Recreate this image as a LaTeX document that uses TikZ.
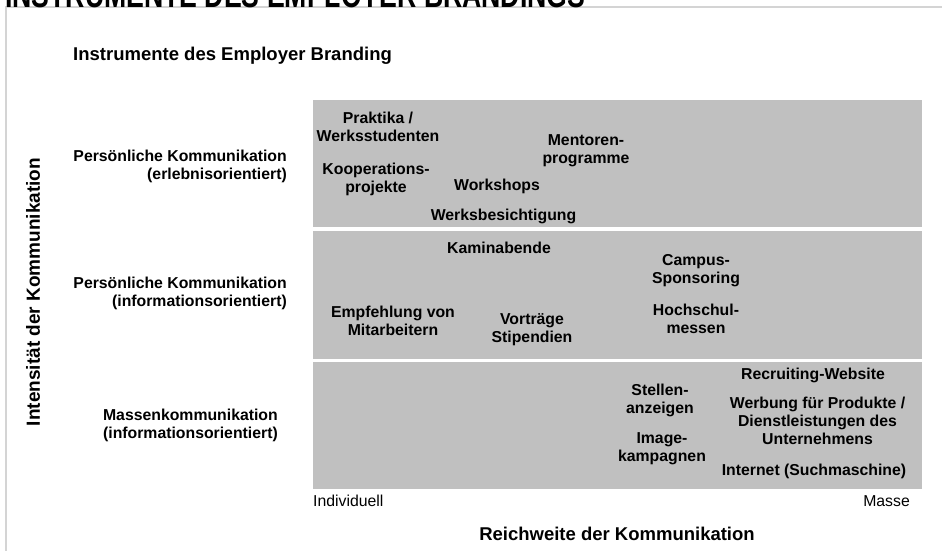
\documentclass[tikz,border=0pt]{standalone}
\usepackage{fontspec}
\setmainfont{Liberation Sans}
\definecolor{panel}{RGB}{192,192,192}
\definecolor{framegray}{RGB}{212,212,212}
\begin{document}
\begin{tikzpicture}[x=1pt,y=-1pt,
  item/.style={font=\fontsize{15.8}{18}\selectfont\bfseries, align=center, anchor=north, inner sep=0pt},
  lab/.style={font=\fontsize{15.8}{18.3}\selectfont\bfseries, anchor=north east, inner sep=0pt},
  band/.style={fill=panel, draw=none, inner sep=0pt, anchor=north west, minimum width=608.5pt},
  axis/.style={font=\fontsize{15.8}{18}\selectfont, inner sep=0pt}]
\useasboundingbox (0,0) rectangle (942,551);
\fill[white] (0,0) rectangle (942,551);
% frame
\draw[framegray, line width=2pt] (5.7,551) -- (5.7,7.5) -- (942,7.5);
\node[anchor=base west, inner sep=0pt, font=\fontsize{36}{36}\selectfont\bfseries] (title) at (5,7.5)
  {\scalebox{0.74}[1]{INSTRUMENTE DES EMPLOYER BRANDINGS}};
% heading
\node[anchor=base west, inner sep=0pt, font=\fontsize{18.5}{20}\selectfont\bfseries] (head) at (73,61)
  {Instrumente des Employer Branding};
% bands
\node[band, minimum height=127pt] (b1) at (313,100) {};
\node[band, minimum height=127.5pt] (b2) at (313,231) {};
\node[band, minimum height=127pt] (b3) at (313,362) {};
% vertical axis label
\node[rotate=90, inner sep=0pt, font=\fontsize{19}{20}\selectfont\bfseries] (yax) at (33,292)
  {Intensität der Kommunikation};
% row labels
\node[lab, align=right] (l1) at (287,149.6) {Persönliche Kommunikation\\(erlebnisorientiert)};
\node[lab, align=right] (l2) at (287,276.9) {Persönliche Kommunikation\\(informationsorientiert)};
\node[lab, align=center] (l3) at (278,408.6) {Massenkommunikation\\(informationsorientiert)};
% band 1 items
\node[item] (prak) at (378,112.3) {Praktika /\\Werksstudenten};
\node[item] (koop) at (376,163.3) {Kooperations-\\projekte};
\node[item] (ment) at (586,134.3) {Mentoren-\\programme};
\node[item] (work) at (497,179.3) {Workshops};
\node[item] (werk) at (503.5,209.3) {Werksbesichtigung};
% band 2 items
\node[item] (kamin) at (499,242.3) {Kaminabende};
\node[item] (camp) at (696,254.3) {Campus-\\Sponsoring};
\node[item] (hoch) at (696,304.3) {Hochschul-\\messen};
\node[item] (empf) at (393,306.3) {Empfehlung von\\Mitarbeitern};
\node[item] (vort) at (532,313.3) {Vorträge\\Stipendien};
% band 3 items
\node[item] (recr) at (813,368.3) {Recruiting-Website};
\node[item] (stel) at (660,384.3) {Stellen-\\anzeigen};
\node[item] (werb) at (817.5,397.3) {Werbung für Produkte /\\Dienstleistungen des\\Unternehmens};
\node[item] (imag) at (662,432) {Image-\\kampagnen};
\node[item] (inet) at (814,464.3) {Internet (Suchmaschine)};
% x axis
\node[axis, anchor=base west] (indiv) at (313,506.7) {Individuell};
\node[axis, anchor=base east] (masse) at (910,506.7) {Masse};
\node[anchor=base, inner sep=0pt, font=\fontsize{18.5}{20}\selectfont\bfseries] (xax) at (617,540)
  {Reichweite der Kommunikation};
\end{tikzpicture}
\end{document}
